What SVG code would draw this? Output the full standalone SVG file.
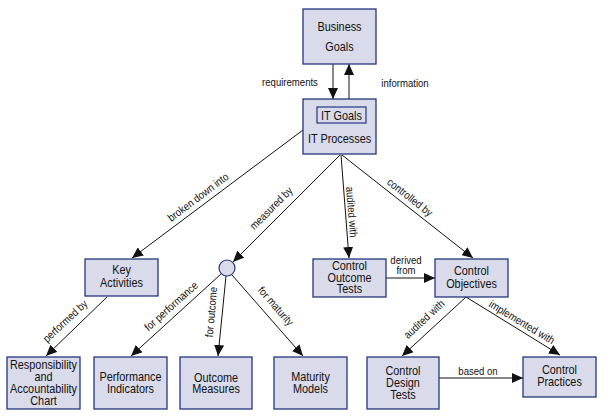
<svg xmlns="http://www.w3.org/2000/svg" width="610" height="418" viewBox="0 0 610 418">
<style>
.box{fill:#d9dbea;stroke:#24367f;stroke-width:1.3}
.t,.l{font-family:"Liberation Sans",Arial,sans-serif;fill:#111;text-anchor:middle;transform-box:fill-box;transform-origin:center;transform:scaleX(0.87)}
.t{font-size:12.5px}
.l{font-size:11px}
.c{stroke:#111;stroke-width:1;fill:none;marker-end:url(#ah)}
</style>
<defs>
<marker id="ah" markerUnits="userSpaceOnUse" markerWidth="12" markerHeight="10" refX="11" refY="5" orient="auto">
<path d="M0,0 L11,5 L0,10 Z" fill="#111"/>
</marker>
</defs>
<rect width="610" height="418" fill="#fff"/>
<g id="connectors">
<line class="c" x1="333" y1="64" x2="333" y2="99"/>
<line class="c" x1="349" y1="99" x2="349" y2="64"/>
<line class="c" x1="303" y1="130" x2="132" y2="258"/>
<line class="c" x1="340" y1="155" x2="233" y2="262"/>
<line class="c" x1="341" y1="155" x2="349" y2="258"/>
<line class="c" x1="342" y1="155" x2="473" y2="258"/>
<line class="c" x1="107" y1="297" x2="46" y2="356"/>
<line class="c" x1="221" y1="274" x2="131" y2="356"/>
<line class="c" x1="226" y1="276" x2="218" y2="356"/>
<line class="c" x1="232" y1="275" x2="303" y2="356"/>
<line class="c" x1="386" y1="278" x2="435" y2="278"/>
<line class="c" x1="466" y1="297" x2="402" y2="356"/>
<line class="c" x1="466" y1="297" x2="560" y2="355"/>
<line class="c" x1="439" y1="378" x2="523" y2="378"/>
</g>
<g id="labels">
<text class="l" x="290" y="86">requirements</text>
<text class="l" x="405" y="87">information</text>
<g transform="rotate(-37 198 197)"><text class="l" x="198" y="201">broken down into</text></g>
<g transform="rotate(-45 271 208)"><text class="l" x="271" y="212">measured by</text></g>
<g transform="rotate(85.5 352 212)"><text class="l" x="352" y="216">audited with</text></g>
<g transform="rotate(38 410 197)"><text class="l" x="410" y="201">controlled by</text></g>
<g transform="rotate(-43 65 321)"><text class="l" x="65" y="325">performed by</text></g>
<g transform="rotate(-42 171 306)"><text class="l" x="171" y="310">for performance</text></g>
<g transform="rotate(-85 211 312)"><text class="l" x="211" y="316">for outcome</text></g>
<g transform="rotate(49 276 306)"><text class="l" x="276" y="310">for maturity</text></g>
<text class="l" x="406" y="264">derived</text>
<text class="l" x="406" y="274">from</text>
<g transform="rotate(-43 424 319)"><text class="l" x="424" y="323">audited with</text></g>
<g transform="rotate(31 522 322)"><text class="l" x="522" y="326">implemented with</text></g>
<text class="l" x="478" y="375">based on</text>
</g>
<g id="business-goals">
<rect class="box" x="303" y="9" width="73" height="55"/>
<text class="t" x="339.5" y="31">Business</text>
<text class="t" x="339.5" y="51">Goals</text>
</g>
<g id="it-processes">
<rect class="box" x="303" y="99" width="73" height="55"/>
<rect x="317" y="107" width="49" height="16" fill="none" stroke="#24367f" stroke-width="1.2"/>
<text class="t" x="341.5" y="120">IT Goals</text>
<text class="t" x="339.5" y="143">IT Processes</text>
</g>
<g id="key-activities">
<rect class="box" x="85" y="259" width="73" height="37"/>
<text class="t" x="121.5" y="274">Key</text>
<text class="t" x="121.5" y="287">Activities</text>
</g>
<g id="measure-hub">
<circle cx="227" cy="268" r="8" fill="#d9dbea" stroke="#24367f" stroke-width="1.2"/>
</g>
<g id="control-outcome-tests">
<rect class="box" x="313" y="259" width="73" height="38"/>
<text class="t" x="349.5" y="270">Control</text>
<text class="t" x="349.5" y="282">Outcome</text>
<text class="t" x="349.5" y="293">Tests</text>
</g>
<g id="control-objectives">
<rect class="box" x="435" y="259" width="73" height="38"/>
<text class="t" x="471.5" y="275">Control</text>
<text class="t" x="471.5" y="288">Objectives</text>
</g>
<g id="responsibility-chart">
<rect class="box" x="7" y="357" width="73" height="52"/>
<text class="t" x="43.5" y="369">Responsibility</text>
<text class="t" x="43.5" y="381">and</text>
<text class="t" x="43.5" y="393">Accountability</text>
<text class="t" x="43.5" y="405">Chart</text>
</g>
<g id="performance-indicators">
<rect class="box" x="94" y="357" width="73" height="52"/>
<text class="t" x="130.5" y="381">Performance</text>
<text class="t" x="130.5" y="393">Indicators</text>
</g>
<g id="outcome-measures">
<rect class="box" x="180" y="357" width="72" height="52"/>
<text class="t" x="216" y="382">Outcome</text>
<text class="t" x="216" y="393">Measures</text>
</g>
<g id="maturity-models">
<rect class="box" x="274" y="357" width="73" height="52"/>
<text class="t" x="310.5" y="381">Maturity</text>
<text class="t" x="310.5" y="393">Models</text>
</g>
<g id="control-design-tests">
<rect class="box" x="367" y="357" width="72" height="52"/>
<text class="t" x="403" y="375">Control</text>
<text class="t" x="403" y="387">Design</text>
<text class="t" x="403" y="399">Tests</text>
</g>
<g id="control-practices">
<rect class="box" x="523" y="357" width="73" height="40"/>
<text class="t" x="559.5" y="374">Control</text>
<text class="t" x="559.5" y="386">Practices</text>
</g>
</svg>
